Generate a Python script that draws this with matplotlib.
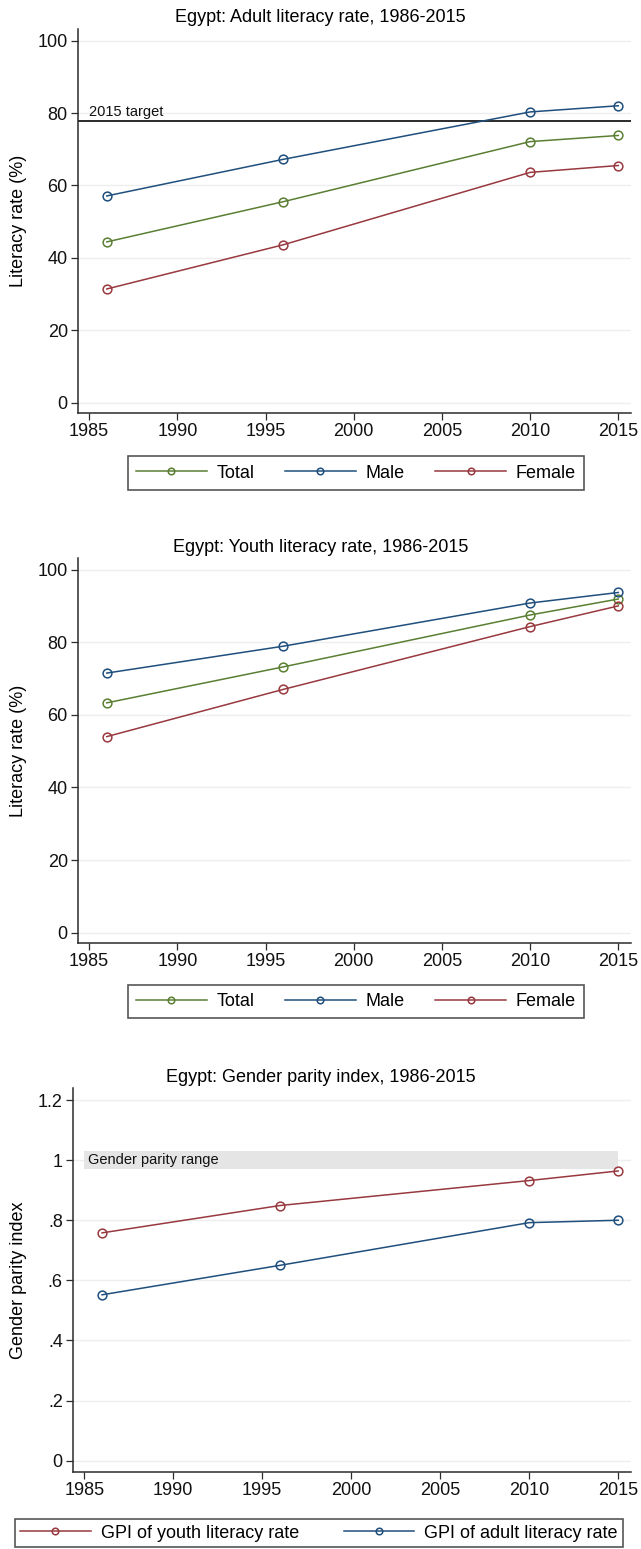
import matplotlib
matplotlib.use("Agg")
import matplotlib.pyplot as plt

plt.rcParams['font.family'] = ['Liberation Sans', 'DejaVu Sans']

# ---------------- data ----------------
years = [1986, 1996, 2010, 2015]

adult_total = [44.4, 55.5, 72.1, 73.8]
adult_male = [57.1, 67.2, 80.3, 82.0]
adult_female = [31.4, 43.6, 63.6, 65.5]
adult_target = 77.8

youth_total = [63.3, 73.2, 87.5, 91.9]
youth_male = [71.5, 78.9, 90.8, 93.7]
youth_female = [54.0, 67.0, 84.3, 90.0]

gpi_youth = [0.758, 0.849, 0.932, 0.964]
gpi_adult = [0.552, 0.650, 0.792, 0.800]
parity_low, parity_high = 0.97, 1.03
parity_span = [1985, 2015]

literacy_ticks = [0, 20, 40, 60, 80, 100]
gpi_ticks = [0, 0.2, 0.4, 0.6, 0.8, 1.0, 1.2]
gpi_ticklabels = ['0', '.2', '.4', '.6', '.8', '1', '1.2']
year_ticks = [1985, 1990, 1995, 2000, 2005, 2010, 2015]

titles = ["Egypt: Adult literacy rate, 1986-2015",
          "Egypt: Youth literacy rate, 1986-2015",
          "Egypt: Gender parity index, 1986-2015"]

# ---------------- style ----------------
W, H = 641, 1549
DPI = 100
GREEN = '#5a7f33'
BLUE = '#1f4f7d'
RED = '#98393f'
GRID = '#eeeeee'
AXC = '#2b2b2b'
FS = 13

fig = plt.figure(figsize=(W / DPI, H / DPI), dpi=DPI)


def px_axes(left, top, right, bottom):
    return fig.add_axes([left / W, 1 - bottom / H, (right - left) / W, (bottom - top) / H])


def style(ax, yticks, ylim, ylabels=None):
    ax.set_xlim(1984.34, 2015.72)
    ax.set_ylim(*ylim)
    ax.set_yticks(yticks)
    if ylabels is not None:
        ax.set_yticklabels(ylabels)
    ax.set_xticks(year_ticks)
    for s in ['top', 'right']:
        ax.spines[s].set_visible(False)
    for s in ['left', 'bottom']:
        ax.spines[s].set_color(AXC)
        ax.spines[s].set_linewidth(1.1)
    ax.tick_params(axis='both', direction='out', length=5, width=0.9, color=AXC,
                   labelsize=FS, labelcolor='#111111', pad=2)
    ax.grid(axis='y', color=GRID, linewidth=1.0)
    ax.set_axisbelow(True)


mk = dict(marker='o', markersize=6.3, markerfacecolor='none', markeredgewidth=1.1)
lw = 1.1


def set_ylabel(ax, text, left_px, right_px):
    ax.set_ylabel(text, fontsize=13)
    ax.yaxis.set_label_coords((27 - left_px) / (right_px - left_px), 0.5)


def make_legend(cx_px, cy_px, handles, labels, ncol, colspace, bpad):
    leg = fig.legend(handles, labels, loc='center', bbox_to_anchor=(cx_px / W, 1 - cy_px / H),
                     ncol=ncol, fontsize=FS, frameon=True, fancybox=False,
                     edgecolor=AXC, handlelength=3.9, handletextpad=0.55,
                     columnspacing=colspace, borderpad=bpad, borderaxespad=0,
                     markerscale=0.75)
    leg.get_frame().set_linewidth(1.2)
    return leg


# ---------------- panel 1 ----------------
ax1 = px_axes(77.5, 29, 631, 413)
style(ax1, literacy_ticks, (-2.85, 103.2))
ax1.axhline(adult_target, color='#1a1a1a', linewidth=1.3, zorder=2)
ax1.text(1985.0, adult_target + 0.5, '2015 target', fontsize=10.5, va='bottom', ha='left',
         color='#111111')
l_t, = ax1.plot(years, adult_total, color=GREEN, linewidth=lw, **mk, zorder=3)
l_m, = ax1.plot(years, adult_male, color=BLUE, linewidth=lw, **mk, zorder=3)
l_f, = ax1.plot(years, adult_female, color=RED, linewidth=lw, **mk, zorder=3)
set_ylabel(ax1, 'Literacy rate (%)', 77.5, 631)
fig.text(0.5, 1 - 17 / H, titles[0], ha='center', va='center', fontsize=13)
make_legend(356, 473, [l_t, l_m, l_f], ['Total', 'Male', 'Female'], 3, 1.7, 0.45)

# ---------------- panel 2 ----------------
ax2 = px_axes(77.5, 558, 631, 943)
style(ax2, literacy_ticks, (-2.85, 103.2))
y_t, = ax2.plot(years, youth_total, color=GREEN, linewidth=lw, **mk, zorder=3)
y_m, = ax2.plot(years, youth_male, color=BLUE, linewidth=lw, **mk, zorder=3)
y_f, = ax2.plot(years, youth_female, color=RED, linewidth=lw, **mk, zorder=3)
set_ylabel(ax2, 'Literacy rate (%)', 77.5, 631)
fig.text(0.5, 1 - 547 / H, titles[1], ha='center', va='center', fontsize=13)
make_legend(356, 1001.5, [y_t, y_m, y_f], ['Total', 'Male', 'Female'], 3, 1.7, 0.45)

# ---------------- panel 3 ----------------
ax3 = px_axes(72.5, 1088, 631, 1472)
style(ax3, gpi_ticks, (-0.0376, 1.24), gpi_ticklabels)
ax3.fill_between(parity_span, parity_low, parity_high, color='#e5e5e5', linewidth=0, zorder=1)
ax3.text(1985.2, (parity_low + parity_high) / 2, 'Gender parity range', fontsize=10.5,
         va='center', ha='left', color='#111111', zorder=2)
g_y, = ax3.plot(years, gpi_youth, color=RED, linewidth=lw, **mk, zorder=3)
g_a, = ax3.plot(years, gpi_adult, color=BLUE, linewidth=lw, **mk, zorder=3)
set_ylabel(ax3, 'Gender parity index', 72.5, 631)
fig.text(0.5, 1 - 1078 / H, titles[2], ha='center', va='center', fontsize=13)
make_legend(319, 1533, [g_y, g_a],
            ['GPI of youth literacy rate', 'GPI of adult literacy rate'], 2, 2.5, 0.3)

fig.savefig('out.png', dpi=DPI)
